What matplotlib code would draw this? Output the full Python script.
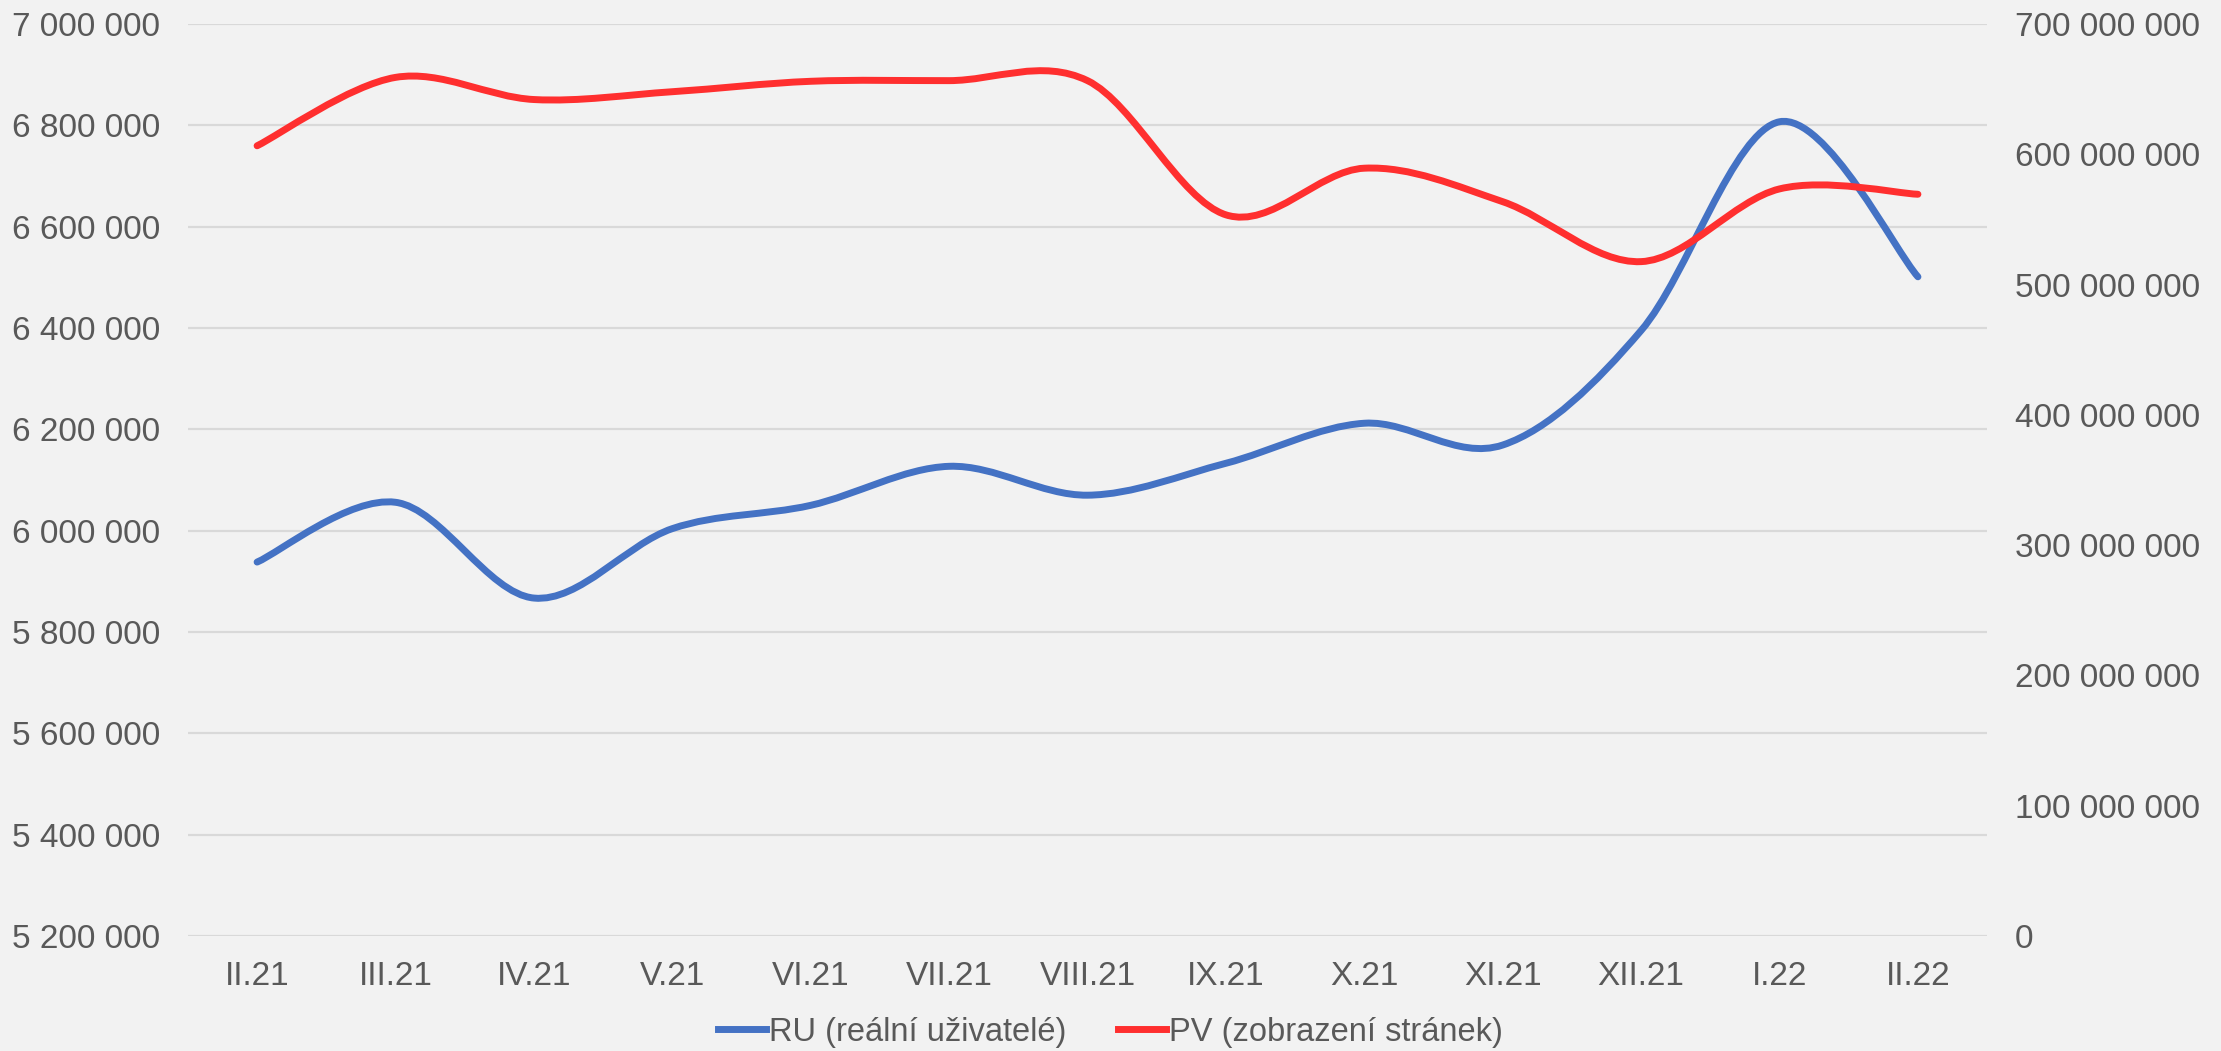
import matplotlib.pyplot as plt
import numpy as np
from matplotlib.path import Path
from matplotlib.patches import PathPatch
from matplotlib.lines import Line2D
from matplotlib.ticker import FuncFormatter, MultipleLocator

plt.rcParams['font.family'] = ['Liberation Sans', 'DejaVu Sans']

months = ['II.21', 'III.21', 'IV.21', 'V.21', 'VI.21', 'VII.21', 'VIII.21',
          'IX.21', 'X.21', 'XI.21', 'XII.21', 'I.22', 'II.22']
ru = [5938000, 6056000, 5867000, 6004000, 6050000, 6127000, 6070000,
      6133000, 6212000, 6169000, 6395000, 6807000, 6501000]
pv = [606500000, 659000000, 642000000, 648000000, 656000000, 656500000, 656500000,
      553500000, 589300000, 563600000, 517600000, 573400000, 569300000]

ru_label = 'RU (reální uživatelé)'
pv_label = 'PV (zobrazení stránek)'
blue = '#4472C4'
red = '#FF2F2F'
bg = '#F2F2F2'
txt = '#595959'


def smooth_path(xs, ys):
    # excel-like smoothed line: catmull-rom as cubic bezier segments
    p = np.column_stack([xs, ys]).astype(float)
    n = len(p)
    verts = [p[0]]
    codes = [Path.MOVETO]
    for i in range(n - 1):
        p0 = p[i - 1] if i > 0 else p[i]
        p3 = p[i + 2] if i + 2 < n else p[i + 1]
        c1 = p[i] + (p[i + 1] - p0) / 6
        c2 = p[i + 1] - (p3 - p[i]) / 6
        verts += [c1, c2, p[i + 1]]
        codes += [Path.CURVE4] * 3
    return Path(verts, codes)


def fmt(v, pos):
    return '{:,.0f}'.format(v).replace(',', ' ')


fig = plt.figure(figsize=(22.21, 10.51), dpi=100, facecolor=bg)
ax = fig.add_axes([0.0846, 0.1094, 0.8101, 0.8678])
ax.set_facecolor(bg)
ax2 = ax.twinx()
ax2.patch.set_visible(False)

x = np.arange(len(months))
ax.add_patch(PathPatch(smooth_path(x, ru), fill=False, edgecolor=blue, lw=5,
                       capstyle='round', joinstyle='round'))
ax2.add_patch(PathPatch(smooth_path(x, pv), fill=False, edgecolor=red, lw=5,
                        capstyle='round', joinstyle='round'))

ax.set_xlim(-0.5, len(months) - 0.5)
ax.set_ylim(5200000, 7000000)
ax2.set_ylim(0, 700000000)
ax.yaxis.set_major_locator(MultipleLocator(200000))
ax2.yaxis.set_major_locator(MultipleLocator(100000000))
ax.yaxis.set_major_formatter(FuncFormatter(fmt))
ax2.yaxis.set_major_formatter(FuncFormatter(fmt))
ax.set_xticks(x)
ax.set_xticklabels(months)

ax.grid(axis='y', color='#D9D9D9', lw=1.6)
ax.set_axisbelow(True)
for a in (ax, ax2):
    for s in a.spines.values():
        s.set_visible(False)
ax.tick_params(axis='y', length=0, pad=20, labelsize=24, labelcolor=txt)
ax2.tick_params(axis='y', length=0, pad=20, labelsize=24, labelcolor=txt)
ax.tick_params(axis='x', length=0, pad=18, labelsize=24, labelcolor=txt)

handles = [Line2D([], [], color=blue, lw=5), Line2D([], [], color=red, lw=5)]
fig.legend(handles, [ru_label, pv_label], loc='center', bbox_to_anchor=(0.5, 0.018),
           ncol=2, frameon=False, fontsize=23.5, labelcolor=txt,
           handlelength=1.45, handletextpad=0.1, columnspacing=1.6)

fig.savefig('out.png', dpi=100, facecolor=bg)
